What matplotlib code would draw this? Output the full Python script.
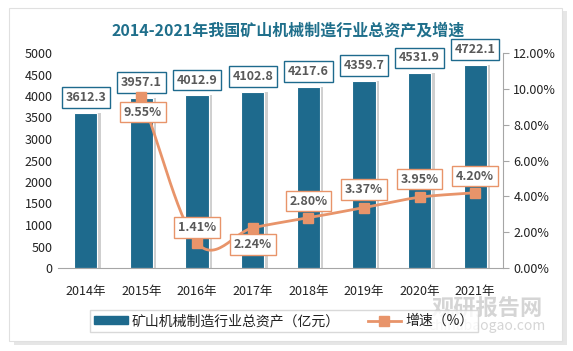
import numpy as np
import matplotlib
matplotlib.use("Agg")
import matplotlib.pyplot as plt
from matplotlib.patches import Rectangle
from matplotlib.lines import Line2D

plt.rcParams['font.family'] = ['Noto Sans CJK SC', 'DejaVu Sans']
plt.rcParams['hatch.linewidth'] = 0.6
plt.rcParams['hatch.color'] = '#c8c8c8'

years = ["2014年", "2015年", "2016年", "2017年", "2018年", "2019年", "2020年", "2021年"]
assets = [3612.3, 3957.1, 4012.9, 4102.8, 4217.6, 4359.7, 4531.9, 4722.1]
growth = [None, 9.55, 1.41, 2.24, 2.80, 3.37, 3.95, 4.20]
# label offsets (points) for the growth labels
growth_off = [None, (1, -11), (0, 11), (0, -12), (0, 12), (0, 13), (0, 13), (0, 12)]

BAR = '#1e6a8d'
LINE = '#e8946a'
TXT = '#595959'


def catmull_rom(xs, ys, n=30):
    # smooth line like excel's smoothed line
    xs = np.asarray(xs, float)
    ys = np.asarray(ys, float)
    px = np.concatenate([[2 * xs[0] - xs[1]], xs, [2 * xs[-1] - xs[-2]]])
    py = np.concatenate([[2 * ys[0] - ys[1]], ys, [2 * ys[-1] - ys[-2]]])
    outx, outy = [], []
    for i in range(1, len(px) - 2):
        t = np.linspace(0, 1, n)
        for p, out in ((px, outx), (py, outy)):
            p0, p1, p2, p3 = p[i - 1], p[i], p[i + 1], p[i + 2]
            out.extend(0.5 * ((2 * p1) + (-p0 + p2) * t
                              + (2 * p0 - 5 * p1 + 4 * p2 - p3) * t ** 2
                              + (-p0 + 3 * p1 - 3 * p2 + p3) * t ** 3))
    return np.array(outx), np.array(outy)


fig = plt.figure(figsize=(5.73, 3.51), dpi=100)
fig.patch.set_facecolor('white')

# outer panel with soft shadow
fig.patches.append(Rectangle((14 / 573, 6 / 351), 553 / 573, 334 / 351, transform=fig.transFigure,
                             facecolor='#e6e6e6', edgecolor='none', zorder=-3))
fig.patches.append(Rectangle((9 / 573, 10 / 351), 553 / 573, 333 / 351, transform=fig.transFigure,
                             facecolor='white', edgecolor='#e0e0e0', lw=0.8, zorder=-2))

ax = fig.add_axes([58 / 573, 83 / 351, 445 / 573, 215 / 351])
ax.set_facecolor('none')
x = np.arange(len(years))
ax.set_xlim(-0.5, len(years) - 0.5)
ax.set_ylim(0, 5000)

ax.add_patch(Rectangle((-0.5, 0), len(years), 5000, facecolor='white', edgecolor='none',
                       hatch='//////', zorder=0))

# bar shadows
ax.bar(x + 0.06, assets, width=0.42, color='#b0b0b0', alpha=0.6, zorder=1)
ax.bar(x, assets, width=0.42, color=BAR, edgecolor='white', lw=0.8, zorder=2)

for xi, v in zip(x, assets):
    ax.annotate(f"{v:.1f}", (xi, v), xytext=(0, 11), textcoords='offset points',
                ha='center', va='center', fontsize=9, fontweight='bold', color=TXT,
                bbox=dict(boxstyle='square,pad=0.3', fc='white', ec=BAR, lw=1.0), zorder=6)

ax.set_yticks(np.arange(0, 5001, 500))
ax.tick_params(axis='y', length=0, labelsize=9, colors='#222222', pad=4)
ax.tick_params(axis='x', length=0, labelsize=9, colors='#222222', pad=12)
ax.set_xticks(x)
ax.set_xticklabels(years)
for s in ['left', 'top', 'right']:
    ax.spines[s].set_visible(False)
ax.spines['bottom'].set_color('#a6a6a6')

ax2 = ax.twinx()
ax2.set_ylim(0, 12)
ax2.set_yticks(np.arange(0, 12.01, 2))
ax2.set_yticklabels([f"{v:.2f}%" for v in np.arange(0, 12.01, 2)])
ax2.tick_params(axis='y', length=4, color='#a6a6a6', labelsize=9, colors='#222222')
for s in ['left', 'top', 'bottom']:
    ax2.spines[s].set_visible(False)
ax2.spines['right'].set_color('#a6a6a6')

gx = [xi for xi, g in zip(x, growth) if g is not None]
gy = [g for g in growth if g is not None]
sx, sy = catmull_rom(gx, gy)
ax2.plot(sx, sy, color=LINE, lw=2, zorder=3)
ax2.plot(gx, gy, 's', color=LINE, ms=7, zorder=4)
for xi, g, off in zip(x, growth, growth_off):
    if g is None:
        continue
    ax2.annotate(f"{g:.2f}%", (xi, g), xytext=off, textcoords='offset points',
                 ha='center', va='center', fontsize=9, fontweight='bold', color=TXT,
                 bbox=dict(boxstyle='square,pad=0.3', fc='white', ec=LINE, lw=1.0), zorder=7)

fig.text(0.502, 0.913, "2014-2021年我国矿山机械制造行业总资产及增速", ha='center', va='center',
         fontsize=11.5, fontweight='bold', color='#1f6f8b')

handles = [Rectangle((0, 0), 1, 1, color=BAR),
           Line2D([], [], color=LINE, lw=2, marker='s', ms=7)]
fig.legend(handles, ["矿山机械制造行业总资产（亿元）", "增速（%）"], loc='center',
           bbox_to_anchor=(284 / 573, 1 - 321 / 351), ncol=2, fontsize=10,
           frameon=True, fancybox=False, edgecolor='#d0d0d0', handlelength=2.4,
           handleheight=0.5, handletextpad=0.3, columnspacing=2.0, borderpad=0.3,
           labelcolor='#222222')

# watermark
fig.text(0.85, 0.118, "观研报告网", ha='center', va='center', fontsize=16, fontweight='bold',
         color='#c4c4c4', alpha=0.7, zorder=-1)
fig.text(0.85, 0.072, "chinabaogao.com", ha='center', va='center', fontsize=10,
         color='#c4c4c4', alpha=0.7, zorder=-1)

fig.savefig("out.png", dpi=100)
